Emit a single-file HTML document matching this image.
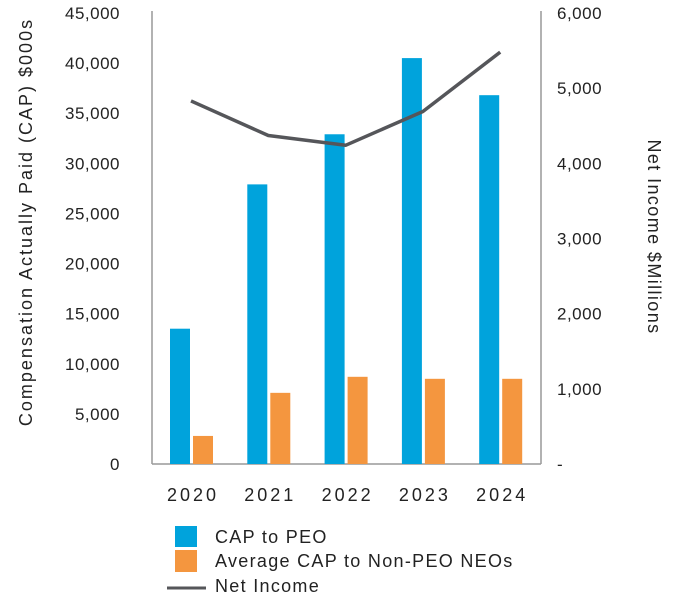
<!DOCTYPE html>
<html><head><meta charset="utf-8"><style>
body{margin:0;background:#fff;}
svg text{font-family:"Liberation Sans",sans-serif;fill:#222;}
</style></head><body>
<svg width="680" height="600">
<g id="axes"></g><g id="bars"></g><g id="line"></g>
<text transform="translate(32,222) rotate(-90)" text-anchor="middle" font-size="18" letter-spacing="2">Compensation Actually Paid (CAP) $000s</text>
<text transform="translate(648,237) rotate(90)" text-anchor="middle" font-size="18" letter-spacing="1.4">Net Income $Millions</text>
<g>
<rect x="175" y="526" width="22" height="21" fill="#00a3dc"/>
<text x="215" y="543" font-size="18" letter-spacing="1.3">CAP to PEO</text>
<rect x="175" y="550" width="22" height="22" fill="#f4963f"/>
<text x="215" y="567" font-size="18" letter-spacing="1.3">Average CAP to Non-PEO NEOs</text>
<line x1="167" y1="588" x2="206" y2="588" stroke="#55565a" stroke-width="3"/>
<text x="215" y="592" font-size="18" letter-spacing="1.3">Net Income</text>
</g>
</svg>
<script>
const categories=["2020","2021","2022","2023","2024"];
const capPeo=[13500,27900,32900,40500,36800];
const capNeo=[2800,7100,8700,8500,8500];
const netIncome=[4830,4370,4240,4690,5480];
const leftTicks=[0,5000,10000,15000,20000,25000,30000,35000,40000,45000];
const rightTicks=[0,1000,2000,3000,4000,5000,6000];
const NS="http://www.w3.org/2000/svg";
const x0=152,x1=541,yB=464,yT=13;
const yL=v=>yB-(v/45000)*(yB-yT);
const yR=v=>yB-(v/6000)*(yB-yT);
const xc=i=>191+i*77.3;
function mk(p,t,a){const e=document.createElementNS(NS,t);for(const k in a)e.setAttribute(k,a[k]);p.appendChild(e);return e;}
const axes=document.getElementById('axes');
let e=mk(axes,'line',{x1:x0,y1:yT-2,x2:x0,y2:yB,stroke:'#999','stroke-width':1.5});

e=mk(axes,'line',{x1:x1,y1:yT-2,x2:x1,y2:yB,stroke:'#999','stroke-width':1.5});

e=mk(axes,'line',{x1:x0,y1:yB,x2:x1,y2:yB,stroke:'#999','stroke-width':1.5});

leftTicks.forEach(v=>{const t=mk(axes,'text',{x:120,y:yL(v)+6,'text-anchor':'end','font-size':17,'letter-spacing':0.5});t.textContent=v.toLocaleString('en-US');
});
rightTicks.forEach(v=>{const t=mk(axes,'text',{x:557,y:yR(v)+6,'font-size':17,'letter-spacing':0.5});t.textContent=v===0?'-':v.toLocaleString('en-US');
});
categories.forEach((c,i)=>{const t=mk(axes,'text',{x:xc(i)+2,y:501,'text-anchor':'middle','font-size':18,'letter-spacing':3});t.textContent=c;
});
const bars=document.getElementById('bars');
categories.forEach((c,i)=>{
 let b=mk(bars,'rect',{x:xc(i)-21,y:yL(capPeo[i]),width:20,height:yB-yL(capPeo[i]),fill:'#00a3dc'});
 
 b=mk(bars,'rect',{x:xc(i)+2,y:yL(capNeo[i]),width:20,height:yB-yL(capNeo[i]),fill:'#f4963f'});
 
});
const pl=mk(document.getElementById('line'),'polyline',{points:netIncome.map((v,i)=>xc(i)+','+yR(v)).join(' '),fill:'none',stroke:'#55565a','stroke-width':3.5,'stroke-linejoin':'round'});

</script>
</body></html>
